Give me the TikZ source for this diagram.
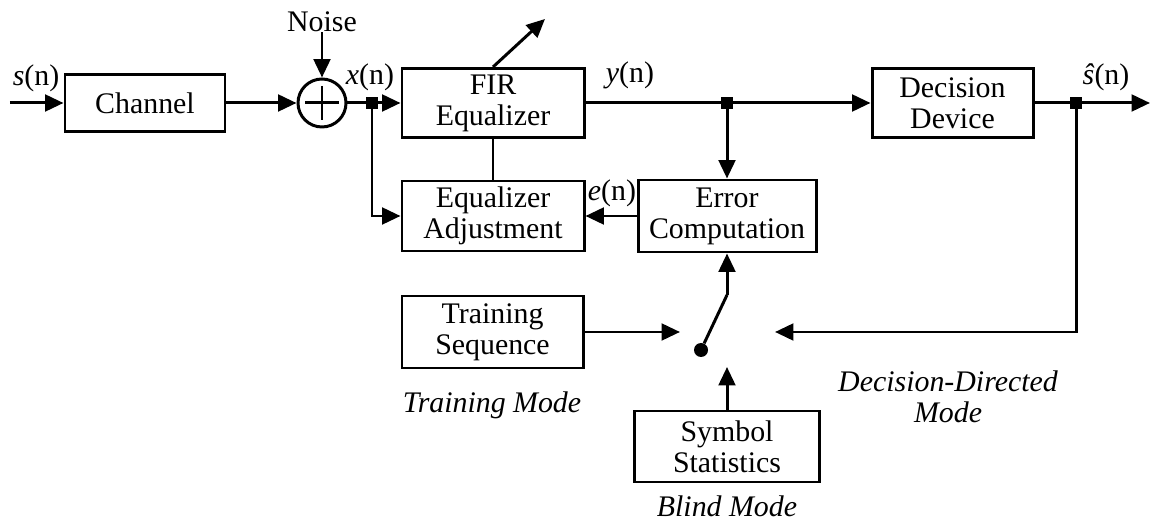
\documentclass[tikz,border=0pt]{standalone}
\usepackage{fontspec}
\setmainfont{Liberation Serif}
\usetikzlibrary{arrows.meta,positioning,calc}
\tikzset{
  >={Triangle[length=10.5pt,width=9.5pt]},
  blk/.style={draw,line width=1.7pt,align=center,inner sep=2pt,
    font=\fontsize{17}{17.6}\selectfont},
  sig/.style={->,line width=1.7pt},
  wire/.style={line width=1.7pt},
  jdot/.style={fill,rectangle,minimum size=0.24cm,inner sep=0pt},
  lbl/.style={inner sep=0pt,font=\fontsize{17}{17.6}\selectfont},
  modelbl/.style={inner sep=0pt,align=center,font=\fontsize{17}{17.6}\selectfont\itshape},
}

\begin{document}
\begin{tikzpicture}
  \useasboundingbox (0,0) rectangle (23.12,10.48);

  % forward path
  \coordinate (in) at (0.2,8.42);
  \node[blk,minimum width=3.2cm,minimum height=1.14cm] (chan) at (2.9,8.42) {Channel};
  \node[draw,circle,line width=1.7pt,minimum size=0.96cm,inner sep=0pt] (sum) at (6.44,8.42) {};
  \draw[wire] ($(sum)+(0,0.34)$) -- ($(sum)+(0,-0.34)$)
              ($(sum)+(-0.34,0)$) -- ($(sum)+(0.34,0)$);
  \node[lbl] (noise) at (6.44,10.04) {Noise};
  \node[jdot] (jx) at (7.44,8.42) {};
  \node[blk,minimum width=3.64cm,minimum height=1.38cm] (fir) at (9.86,8.42) {FIR\\Equalizer};
  \coordinate (adapt) at (10.9,10.1);
  \node[jdot] (jy) at (14.54,8.42) {};
  \node[blk,minimum width=3.22cm,minimum height=1.38cm] (dec) at (19.05,8.42) {Decision\\Device};
  \node[jdot] (js) at (21.52,8.42) {};
  \coordinate (out) at (23.0,8.42);

  \node[lbl] at (0.72,8.92) {\textit{s}(n)};
  \node[lbl] at (7.4,8.94) {\textit{x}(n)};
  \node[lbl] at (12.6,8.98) {\textit{y}(n)};
  \node[lbl] at (22.12,8.94) {\textit{ŝ}(n)};

  % adaptation loop
  \node[blk,minimum width=3.64cm,minimum height=1.4cm] (adj) at (9.86,6.16) {Equalizer\\Adjustment};
  \node[blk,minimum width=3.56cm,minimum height=1.44cm] (err) at (14.54,6.16) {Error\\Computation};
  \node[lbl] at (12.24,6.62) {\textit{e}(n)};

  % reference sources and mode switch
  \node[blk,minimum width=3.62cm,minimum height=1.44cm] (train) at (9.85,3.84) {Training\\Sequence};
  \node[blk,minimum width=3.7cm,minimum height=1.42cm] (sym) at (14.54,1.55) {Symbol\\Statistics};
  \coordinate (pivot) at (14.54,4.58);
  \node[circle,fill,minimum size=0.28cm,inner sep=0pt] (swdot) at (14.02,3.48) {};
  \coordinate (tin) at (13.6,3.84);
  \coordinate (ddin) at (15.5,3.84);
  \coordinate (bin) at (14.54,3.14);

  \node[modelbl] at (9.84,2.38) {Training Mode};
  \node[modelbl] at (18.96,2.54) {Decision-Directed\\Mode};
  \node[modelbl] at (14.54,0.36) {Blind Mode};

  % connectors
  \foreach \u/\v in {in/chan,chan/sum,noise/sum,jx/fir,jy/dec,js/out,jy/err,err/adj,
      fir.north/adapt,pivot/err,train/tin,sym/bin}
    \draw[sig] (\u) -- (\v);
  \foreach \u/\v in {sum/jx,fir/jy,dec/js,fir/adj,pivot/swdot}
    \draw[wire] (\u) -- (\v);
  \draw[sig] (jx) |- (adj);
  \draw[sig] (js) |- (ddin);
\end{tikzpicture}
\end{document}
